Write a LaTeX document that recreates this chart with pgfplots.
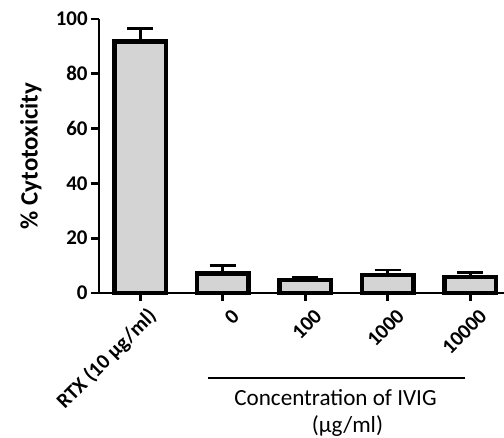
\documentclass[border=0pt]{standalone}
\usepackage{fontspec}
\setmainfont{Carlito}
\usepackage{pgfplots}
\pgfplotsset{compat=1.18}
\definecolor{barfill}{RGB}{212,212,212}
\newcommand{\tlbl}{\fontsize{10.5}{12.5}\selectfont}
\begin{document}
\begin{tikzpicture}
\begin{axis}[
  scale only axis, width=202.5bp, height=137bp,
  xmin=-0.5, xmax=4.41, ymin=0, ymax=100,
  axis lines=left, axis line style={-, line width=1.4bp},
  ybar, bar width=0.625,
  ytick={0,20,...,100},
  xtick=data,
  xticklabels={RTX (10 µg/ml),0,100,1000,10000},
  tick align=outside, major tick length=4bp,
  tick style={line width=1.4bp, black},
  ticklabel style={font=\tlbl\bfseries},
  yticklabel style={inner sep=1.5bp},
  xticklabel style={rotate=45, anchor=east, inner sep=0pt, xshift=0.5bp, yshift=-8.8bp},
  ylabel={\% Cytotoxicity},
  ylabel style={font=\fontsize{12.5}{15}\selectfont\bfseries, at={(axis description cs:-0.168,0.5)}, anchor=center},
  /pgf/number format/assume math mode=true,
  clip=false,
]
\addplot[fill=barfill, draw=black, line width=2.2bp,
  error bars/.cd, y dir=plus, y explicit,
  error bar style={line width=1.4bp},
  error mark options={rotate=90, mark size=6.5bp, line width=1.4bp}]
coordinates {
  (0,91.8) +- (0,4.7)
  (1,7.1) +- (0,2.9)
  (2,4.7) +- (0,1.0)
  (3,6.6) +- (0,1.8)
  (4,5.8) +- (0,1.6)
};
\end{axis}
% group label under the IVIG bars (axis box starts at the origin, 1 px = 0.5bp)
\draw[line width=0.8bp] (54.5bp,-42.5bp) -- (183bp,-42.5bp);
\node[font=\fontsize{11.6}{14}\selectfont, anchor=base, inner sep=0pt] at (118.25bp,-56bp) {Concentration of IVIG};
\node[font=\fontsize{11.6}{14}\selectfont, anchor=base, inner sep=0pt] at (124.25bp,-69.5bp) {(µg/ml)};
\pgfresetboundingbox
\useasboundingbox (-49.5bp,-72.5bp) rectangle (202.5bp,146.5bp);
\end{tikzpicture}
\end{document}
